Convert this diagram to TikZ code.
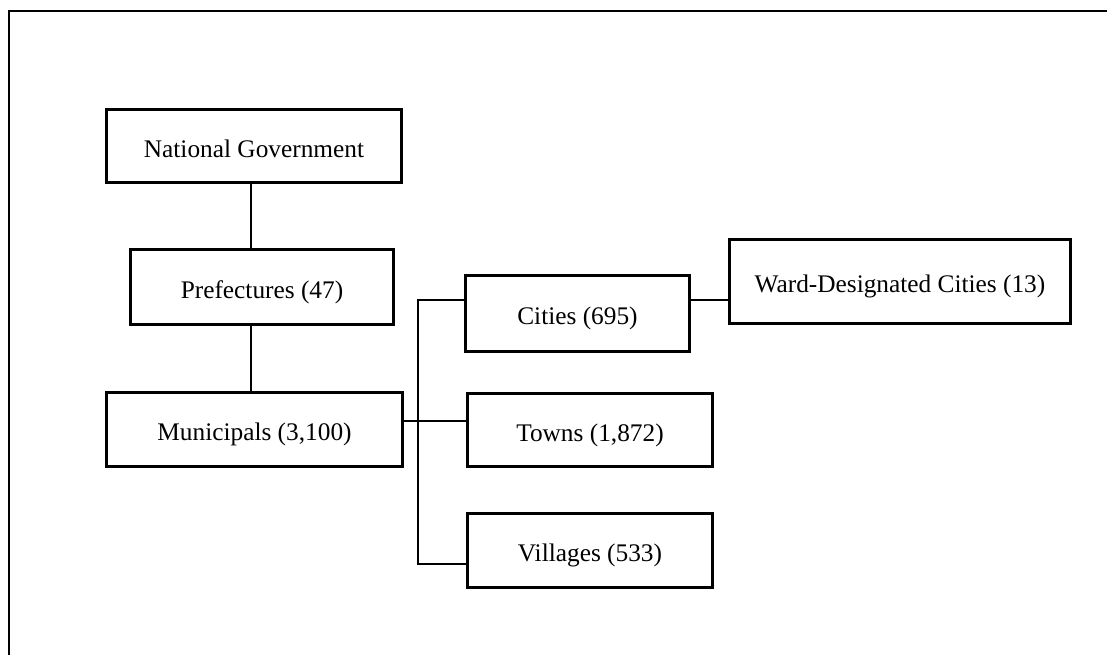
\documentclass[tikz,border=0pt]{standalone}
\usepackage{fontspec}
\setmainfont{Liberation Serif}

\tikzstyle{tier}=[draw=black, line width=2.5pt, inner sep=0pt, font=\fontsize{19}{22}\selectfont, text height=17pt, text depth=0pt]
\tikzstyle{link}=[draw=black, line width=1pt]
\tikzstyle{frame}=[draw=black, line width=1.5pt]

\begin{document}
\begin{tikzpicture}[x=0.75pt, y=-0.75pt]
	\useasboundingbox (0,0) rectangle (1107,655);

	% Outer frame (cut off at right and bottom)
	\draw[frame] (9,670) -- (9,11) -- (1120,11);

	% Levels of government
	\node[tier, minimum width=221.25pt, minimum height=54.75pt] (nat)  at (254,146)   {National Government};
	\node[tier, minimum width=197.25pt, minimum height=56.25pt] (pref) at (262,287)   {Prefectures (47)};
	\node[tier, minimum width=222pt,    minimum height=55.5pt]  (muni) at (254.5,429.5) {Municipals (3,100)};

	% Types of municipals
	\node[tier, minimum width=168pt,    minimum height=57pt]    (city) at (577.5,313.5) {Cities (695)};
	\node[tier, minimum width=183.75pt, minimum height=54.75pt] (town) at (590,430)   {Towns (1,872)};
	\node[tier, minimum width=183.75pt, minimum height=55.5pt]  (vill) at (590,550.5) {Villages (533)};
	\node[tier, minimum width=255.75pt, minimum height=63pt]    (ward) at (900,281.5) {Ward-Designated Cities (13)};

	% Connectors
	\coordinate (trunk) at (251,0);
	\coordinate (bt) at (418,300);
	\coordinate (bb) at (418,564);
	\coordinate (hub) at (418,421);

	\draw[link] (nat.south -| trunk) -- (pref.north -| trunk);
	\draw[link] (pref.south -| trunk) -- (muni.north -| trunk);
	\draw[link] (muni.east |- hub) -- (town.west |- hub);
	\draw[link] (city.west |- bt) -- (bt) -- (bb) -- (vill.west |- bb);
	\draw[link] (city.east |- bt) -- (ward.west |- bt);
\end{tikzpicture}
\end{document}
